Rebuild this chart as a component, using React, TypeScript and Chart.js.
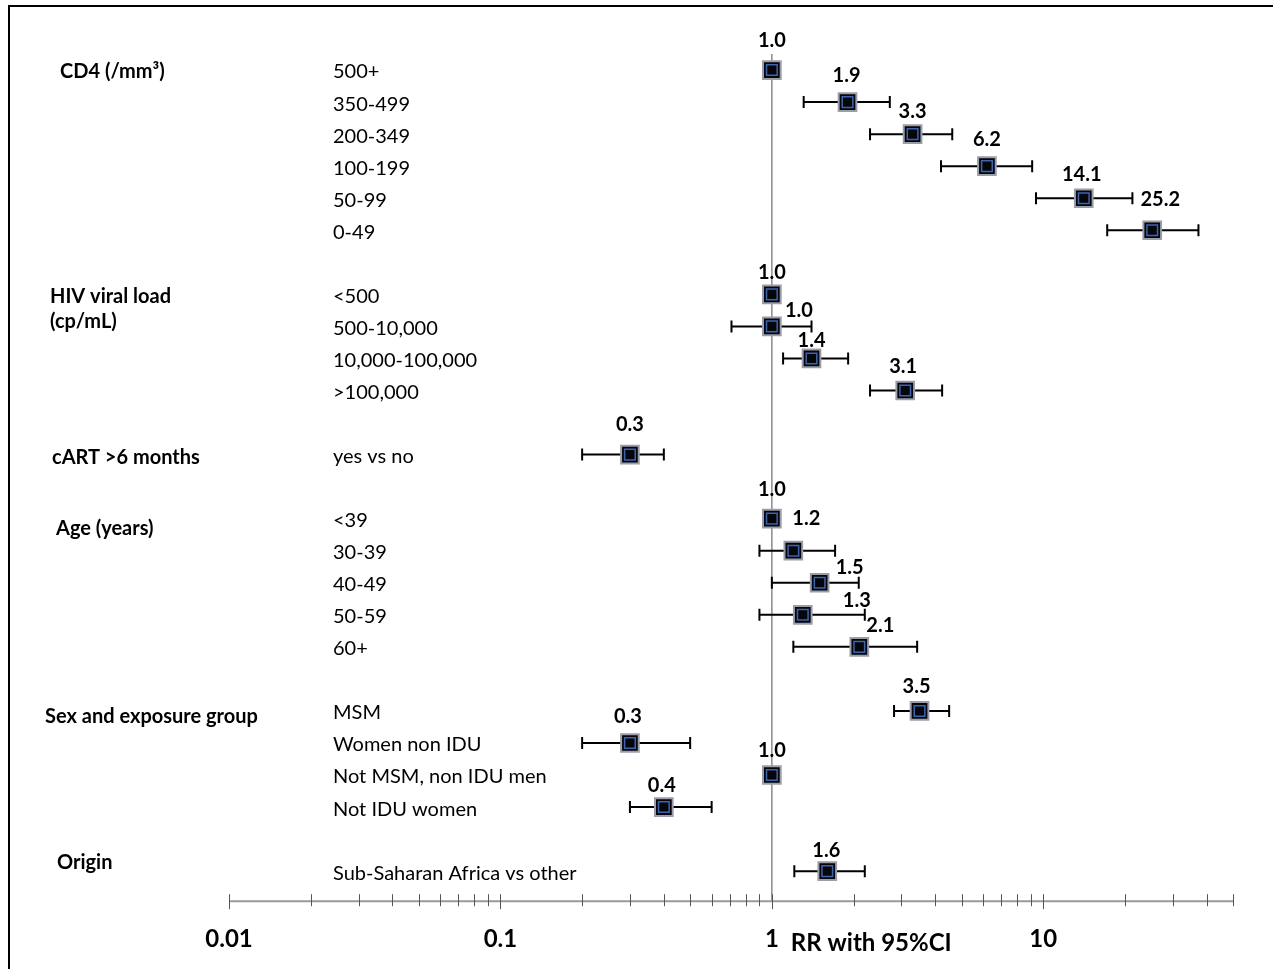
import React, { useEffect, useRef } from 'react';
import { Chart, registerables } from 'chart.js';

Chart.register(...registerables);

// ---------- DATA ----------
const rowLabels = [
  '500+', '350-499', '200-349', '100-199', '50-99', '0-49', '',
  '<500', '500-10,000', '10,000-100,000', '>100,000', '',
  'yes vs no', '',
  '<39', '30-39', '40-49', '50-59', '60+', '',
  'MSM', 'Women non IDU', 'Not MSM, non IDU men', 'Not IDU women', '',
  'Sub-Saharan Africa vs other',
];
const rrValues = [
  1.0, 1.9, 3.3, 6.2, 14.1, 25.2, null,
  1.0, 1.0, 1.4, 3.1, null,
  0.3, null,
  1.0, 1.2, 1.5, 1.3, 2.1, null,
  3.5, 0.3, 1.0, 0.4, null,
  1.6,
];
const ciLower = [
  null, 1.31, 2.3, 4.2, 9.4, 17.2, null,
  null, 0.71, 1.1, 2.3, null,
  0.2, null,
  null, 0.9, 1.0, 0.9, 1.2, null,
  2.82, 0.2, null, 0.3, null,
  1.21,
];
const ciUpper = [
  null, 2.72, 4.62, 9.1, 21.3, 37.3, null,
  null, 1.4, 1.91, 4.24, null,
  0.4, null,
  null, 1.71, 2.09, 2.2, 3.43, null,
  4.5, 0.5, null, 0.6, null,
  2.2,
];
const valueLabels = [
  '1.0', '1.9', '3.3', '6.2', '14.1', '25.2', '',
  '1.0', '1.0', '1.4', '3.1', '',
  '0.3', '',
  '1.0', '1.2', '1.5', '1.3', '2.1', '',
  '3.5', '0.3', '1.0', '0.4', '',
  '1.6',
];
// label offsets relative to marker (styling only)
const labelDx = [0, -1, 0, 0, -2, 8, 0, 0, 27, 0, -2, 0, 0, 0, 0, 13, 30, 54, 21, 0, -3, -2, 0, -2, 0, -1];
const labelDy = [-29, -27, -23, -27, -24, -31, 0, -22, -16, -18, -24, 0, -30, 0, -29, -32, -15, -14, -21, 0, -24, -26, -24, -22, 0, -21];

const groupLabels = ['CD4 (/mm³)', 'HIV viral load\n(cp/mL)', 'cART >6 months', 'Age (years)', 'Sex and exposure group', 'Origin'];
const groupRows = [0, 7, 12, 14, 20, 25];
const groupDx = [60, 50, 52, 56, 45, 57];
const groupDy = [2, 2, 3, 10, 6, -9];

const axisTickValues = [0.01, 0.02, 0.03, 0.04, 0.05, 0.06, 0.07, 0.08, 0.09, 0.1, 0.2, 0.3, 0.4, 0.5, 0.6, 0.7, 0.8, 0.9, 1, 2, 3, 4, 5, 6, 7, 8, 9, 10, 20, 30, 40, 50];
const labeledTicks = [0.01, 0.1, 1, 10];
const tickLabels = ['0.01', '0.1', '1', '10'];
const axisTitle = 'RR with 95%CI';

const FONT = 'Lato, "Open Sans", "DejaVu Sans", sans-serif';

const forestPlugin = {
  id: 'forest',
  beforeDatasetsDraw(chart: any) {
    const { ctx, chartArea } = chart;
    const x = chart.scales.x;
    const y = chart.scales.y;
    ctx.save();
    // reference line at RR = 1
    const x1 = x.getPixelForValue(1);
    ctx.strokeStyle = '#8a8a8a';
    ctx.lineWidth = 1.5;
    ctx.beginPath();
    ctx.moveTo(x1, y.getPixelForValue(-0.5));
    ctx.lineTo(x1, chartArea.bottom);
    ctx.stroke();

    // axis line
    const ay = chartArea.bottom;
    ctx.strokeStyle = '#9a9a9a';
    ctx.lineWidth = 2;
    ctx.beginPath();
    ctx.moveTo(x.getPixelForValue(axisTickValues[0]), ay);
    ctx.lineTo(x.getPixelForValue(axisTickValues[axisTickValues.length - 1]), ay);
    ctx.stroke();
    ctx.strokeStyle = '#555';
    ctx.lineWidth = 1;
    axisTickValues.forEach((v) => {
      const px = Math.round(x.getPixelForValue(v)) + 0.5;
      const major = labeledTicks.includes(v);
      ctx.beginPath();
      ctx.moveTo(px, ay - 7);
      ctx.lineTo(px, ay + (major ? 8 : 5));
      ctx.stroke();
    });

    // error bars
    ctx.strokeStyle = '#000';
    ctx.lineWidth = 2;
    rrValues.forEach((v, i) => {
      const lo = ciLower[i];
      const hi = ciUpper[i];
      if (v == null || lo == null || hi == null) return;
      const py = y.getPixelForValue(i);
      const xl = x.getPixelForValue(lo);
      const xh = x.getPixelForValue(hi);
      ctx.beginPath();
      ctx.moveTo(xl, py);
      ctx.lineTo(xh, py);
      ctx.moveTo(xl, py - 6);
      ctx.lineTo(xl, py + 6);
      ctx.moveTo(xh, py - 6);
      ctx.lineTo(xh, py + 6);
      ctx.stroke();
    });
    ctx.restore();
  },
  afterDraw(chart: any) {
    const { ctx } = chart;
    const x = chart.scales.x;
    const y = chart.scales.y;
    ctx.save();
    ctx.fillStyle = '#000';
    ctx.textBaseline = 'middle';

    // value labels
    ctx.textAlign = 'center';
    ctx.font = `bold 20px ${FONT}`;
    rrValues.forEach((v, i) => {
      if (v == null || !valueLabels[i]) return;
      ctx.fillText(valueLabels[i], x.getPixelForValue(v) + labelDx[i], y.getPixelForValue(i) + labelDy[i]);
    });

    // row labels
    ctx.textAlign = 'left';
    ctx.font = `20px ${FONT}`;
    rowLabels.forEach((lab, i) => {
      if (!lab) return;
      ctx.fillText(lab, 333, y.getPixelForValue(i) + 2);
    });

    // group labels
    ctx.font = `bold 20px ${FONT}`;
    groupLabels.forEach((g, k) => {
      const lines = g.split('\n');
      lines.forEach((ln, j) => {
        ctx.fillText(ln, groupDx[k], y.getPixelForValue(groupRows[k]) + groupDy[k] + j * 25);
      });
    });

    // axis title
    ctx.font = `bold 24px ${FONT}`;
    ctx.fillText(axisTitle, x.getPixelForValue(1) + 19, 943);

    // frame
    ctx.strokeStyle = '#000';
    ctx.lineWidth = 2;
    ctx.beginPath();
    ctx.moveTo(9, 969);
    ctx.lineTo(9, 6);
    ctx.lineTo(1273, 6);
    ctx.stroke();
    ctx.restore();
  },
};

export default function App() {
  const ref = useRef<HTMLCanvasElement>(null);
  useEffect(() => {
    if (!ref.current) return;
    const pts = rrValues.map((v, i) => (v == null ? null : { x: v, y: i })).filter(Boolean);
    const chart = new Chart(ref.current, {
      type: 'scatter',
      data: {
        datasets: [
          {
            data: pts as any,
            order: 2,
            pointStyle: 'rect',
            pointRadius: 12.5,
            pointBackgroundColor: '#05070d',
            pointBorderColor: '#9a9ea6',
            pointBorderWidth: 2,
          },
          {
            data: pts as any,
            order: 1,
            pointStyle: 'rect',
            pointRadius: 7.5,
            pointBackgroundColor: 'rgba(0,0,0,0)',
            pointBorderColor: '#3f63ad',
            pointBorderWidth: 1.5,
          },
        ],
      },
      options: {
        animation: false,
        responsive: true,
        maintainAspectRatio: false,
        layout: { padding: { left: 229, right: 40, top: 38, bottom: -9 } },
        plugins: { legend: { display: false }, tooltip: { enabled: false } },
        scales: {
          x: {
            type: 'logarithmic',
            min: 0.01,
            max: 50,
            afterBuildTicks: (scale: any) => {
              scale.ticks = labeledTicks.map((v) => ({ value: v }));
            },
            grid: { display: false, drawTicks: false },
            border: { display: false },
            ticks: {
              autoSkip: false,
              maxRotation: 0,
              padding: 24,
              color: '#000',
              font: { family: FONT, size: 24, weight: 'bold' },
              callback: (val: any) => {
                const idx = labeledTicks.indexOf(Number(val));
                return idx >= 0 ? tickLabels[idx] : '';
              },
            },
          },
          y: {
            type: 'linear',
            display: false,
            reverse: true,
            min: -1,
            max: 25.9375,
          },
        },
      },
      plugins: [forestPlugin],
    });
    return () => chart.destroy();
  }, []);
  return (
    <div style={{ position: 'fixed', left: 0, top: 0, width: 1273, height: 969, background: '#fff' }}>
      <canvas ref={ref} />
    </div>
  );
}
